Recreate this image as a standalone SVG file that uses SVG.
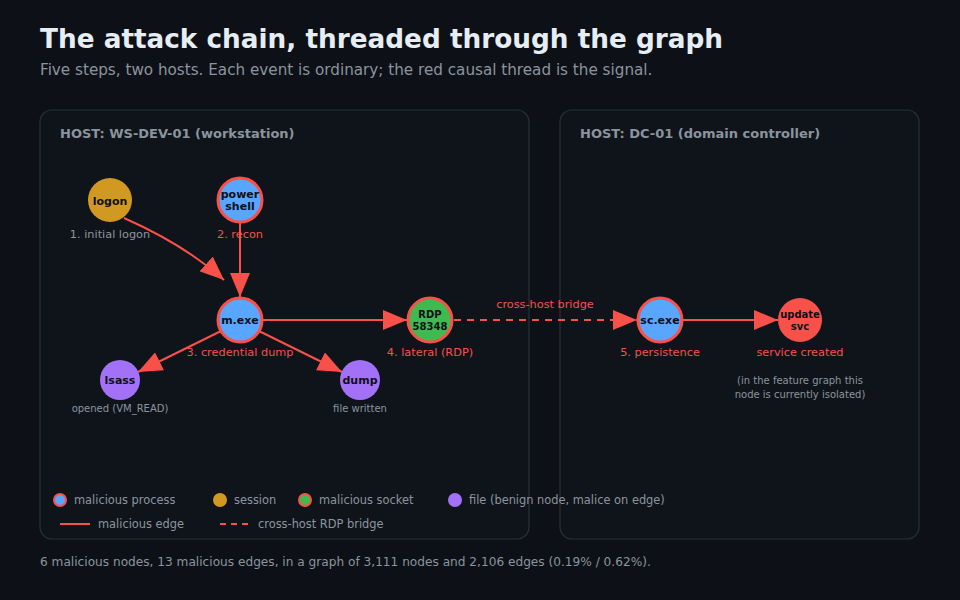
<svg xmlns="http://www.w3.org/2000/svg" width="960" height="600" viewBox="0 0 960 600">
<style>
text{font-family:"DejaVu Sans",sans-serif}
.title{font-size:26.3px;font-weight:bold;fill:#e6edf3}
.sub{font-size:15.2px;fill:#8b949e}
.panel{fill:#0f141b;stroke:#2a3038;stroke-width:1.2}
.ptitle{font-size:13px;font-weight:bold;fill:#8b949e}
.nl{font-size:11px;font-weight:bold;fill:#0d1117;text-anchor:middle}
.lr{font-size:11.3px;fill:#f85149;text-anchor:middle}
.lg{font-size:11.3px;fill:#8b949e;text-anchor:middle}
.ls{font-size:10px;fill:#8b949e;text-anchor:middle}
.leg{font-size:11.4px;fill:#8b949e}
.edge{stroke:#f85149;stroke-width:2;fill:none}
.dash{stroke-dasharray:7,6}
.proc{fill:#58a6ff;stroke:#f85149;stroke-width:3}
.sess{fill:#d29922}
.sock{fill:#3fb950;stroke:#f85149;stroke-width:3}
.file{fill:#a371f7}
.svc{fill:#f85149}
</style>
<defs>
<marker id="ah" markerWidth="12" markerHeight="10" refX="12" refY="5" orient="auto" markerUnits="strokeWidth">
<path d="M0,0 L12,5 L0,10 z" fill="#f85149"/>
</marker>
</defs>
<rect width="960" height="600" fill="#0d1117"/>
<text class="title" x="40" y="48">The attack chain, threaded through the graph</text>
<text class="sub" x="40" y="75">Five steps, two hosts. Each event is ordinary; the red causal thread is the signal.</text>
<rect class="panel" x="40" y="110" width="489" height="429" rx="12"/>
<rect class="panel" x="560" y="110" width="359" height="429" rx="12"/>
<text class="ptitle" x="60" y="138">HOST: WS-DEV-01 (workstation)</text>
<text class="ptitle" x="580" y="138">HOST: DC-01 (domain controller)</text>
<g id="connectors">
<path class="edge" d="M124,218 Q185,245 224,280" marker-end="url(#ah)"/>
<path class="edge" d="M240,223 L240,297" marker-end="url(#ah)"/>
<path class="edge" d="M263,320 L407,320" marker-end="url(#ah)"/>
<path class="edge dash" d="M454,320 L637,320" marker-end="url(#ah)"/>
<path class="edge" d="M683,320 L778,320" marker-end="url(#ah)"/>
<path class="edge" d="M221,331 L138,372" marker-end="url(#ah)"/>
<path class="edge" d="M259,331 L342,372" marker-end="url(#ah)"/>
<text class="lr" x="545" y="308">cross-host bridge</text>
</g>
<g id="logon">
<circle class="sess" cx="110" cy="200" r="22"/>
<text class="nl" x="110" y="205">logon</text>
<text class="lg" x="110" y="238">1. initial logon</text>
</g>
<g id="powershell">
<circle class="proc" cx="240" cy="200" r="22"/>
<text class="nl" x="240" y="198">power</text>
<text class="nl" x="240" y="210">shell</text>
<text class="lr" x="240" y="238">2. recon</text>
</g>
<g id="mexe">
<circle class="proc" cx="240" cy="320" r="22"/>
<text class="nl" x="240" y="324">m.exe</text>
<text class="lr" x="240" y="356">3. credential dump</text>
</g>
<g id="rdp">
<circle class="sock" cx="430" cy="320" r="22"/>
<text class="nl" x="430" y="318" style="font-size:10px">RDP</text>
<text class="nl" x="430" y="330" style="font-size:10px">58348</text>
<text class="lr" x="430" y="356">4. lateral (RDP)</text>
</g>
<g id="scexe">
<circle class="proc" cx="660" cy="320" r="22"/>
<text class="nl" x="660" y="324">sc.exe</text>
<text class="lr" x="660" y="356">5. persistence</text>
</g>
<g id="updatesvc">
<circle class="svc" cx="800" cy="320" r="22"/>
<text class="nl" x="800" y="318" style="font-size:10px">update</text>
<text class="nl" x="800" y="330" style="font-size:10px">svc</text>
<text class="lr" x="800" y="356">service created</text>
<text class="ls" x="800" y="384">(in the feature graph this</text>
<text class="ls" x="800" y="398">node is currently isolated)</text>
</g>
<g id="lsass">
<circle class="file" cx="120" cy="380" r="20"/>
<text class="nl" x="120" y="384">lsass</text>
<text class="ls" x="120" y="412">opened (VM_READ)</text>
</g>
<g id="dump">
<circle class="file" cx="360" cy="380" r="20"/>
<text class="nl" x="360" y="384">dump</text>
<text class="ls" x="360" y="412">file written</text>
</g>
<g id="legend">
<circle class="proc" cx="60" cy="500" r="6" style="stroke-width:2"/>
<text class="leg" x="74" y="504">malicious process</text>
<circle class="sess" cx="220" cy="500" r="7"/>
<text class="leg" x="234" y="504">session</text>
<circle class="sock" cx="305" cy="500" r="6" style="stroke-width:2"/>
<text class="leg" x="319" y="504">malicious socket</text>
<circle class="file" cx="455" cy="500" r="7"/>
<text class="leg" x="469" y="504">file (benign node, malice on edge)</text>
<line class="edge" x1="60" y1="524" x2="90" y2="524"/>
<text class="leg" x="98" y="528">malicious edge</text>
<line class="edge" x1="220" y1="524" x2="248" y2="524" style="stroke-dasharray:6,5"/>
<text class="leg" x="258" y="528">cross-host RDP bridge</text>
</g>
<text class="sub" x="40" y="566" style="font-size:12.15px">6 malicious nodes, 13 malicious edges, in a graph of 3,111 nodes and 2,106 edges (0.19% / 0.62%).</text>
</svg>
